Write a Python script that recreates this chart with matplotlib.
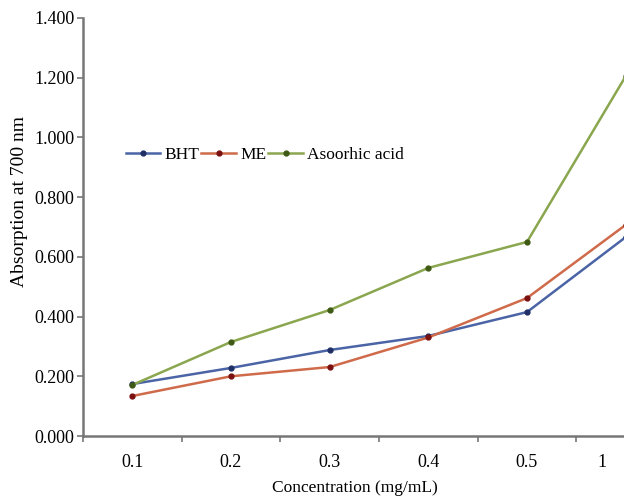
import matplotlib
matplotlib.use("Agg")
import matplotlib.pyplot as plt
import matplotlib.transforms as mtransforms
import numpy as np

categories = ["0.1", "0.2", "0.3", "0.4", "0.5", "1"]
bht = [0.174, 0.228, 0.288, 0.335, 0.415, 0.666]
me = [0.134, 0.200, 0.231, 0.330, 0.462, 0.707]
ascorbic = [0.171, 0.315, 0.422, 0.563, 0.650, 1.205]
series_names = ["BHT", "ME", "Asoorhic acid"]
yticks = [0.0, 0.2, 0.4, 0.6, 0.8, 1.0, 1.2, 1.4]

plt.rcParams['font.family'] = ['Liberation Serif', 'DejaVu Serif']

fig = plt.figure(figsize=(6.24, 4.98), dpi=100)
ax = fig.add_axes([83/624, 62/498, 592/624, 418/498])

x = np.arange(len(categories))
styles = [
    (bht, "#4a64a6", "#1f2f66"),
    (me, "#cf6a4a", "#7a1010"),
    (ascorbic, "#8aa64e", "#3f5a15"),
]
for (vals, lc, mc), name in zip(styles, series_names):
    ax.plot(x, vals, color=lc, lw=1.8, marker='o', ms=3.5, mfc=mc, mec=mc, label=name)

ax.set_xlim(-0.5, len(categories) - 0.5)
ax.set_ylim(0, 1.4)
ax.set_yticks(yticks)
ax.set_yticklabels([f"{v:.3f}" for v in yticks], fontsize=13)
ax.set_xticks(x)
ax.set_xticklabels(categories, fontsize=13)
ax.set_xticks(np.arange(-0.5, len(categories)), minor=True)
ax.tick_params(axis='x', which='major', length=0, pad=13)
ax.tick_params(axis='x', which='minor', length=4, width=1.2, color='#777777', direction='out')
ax.tick_params(axis='y', length=4, width=1.2, color='#777777', direction='out', pad=2)

for s in ['top', 'right']:
    ax.spines[s].set_visible(False)
for s in ['left', 'bottom']:
    ax.spines[s].set_color('#777777')
    ax.spines[s].set_linewidth(1.8)

# shift last tick label slightly left as in the reference
lbl = ax.get_xticklabels()[-1]
lbl.set_transform(lbl.get_transform() + mtransforms.ScaledTranslation(-24/100, 0, fig.dpi_scale_trans))

fig.text(20/624, 1 - 201/498, "Absorption at 700 nm", fontsize=14, rotation=90,
         ha='center', va='center')
fig.text(355/624, 1 - 488/498, "Concentration (mg/mL)", fontsize=12.5, ha='center', va='center')

ax.legend(loc='center left', bbox_to_anchor=(0.072, 0.672), ncol=3, frameon=False,
          fontsize=12.5, handlelength=2.0, handletextpad=0.25, columnspacing=0.1,
          borderaxespad=0, borderpad=0)

fig.savefig("out.png", dpi=100)
